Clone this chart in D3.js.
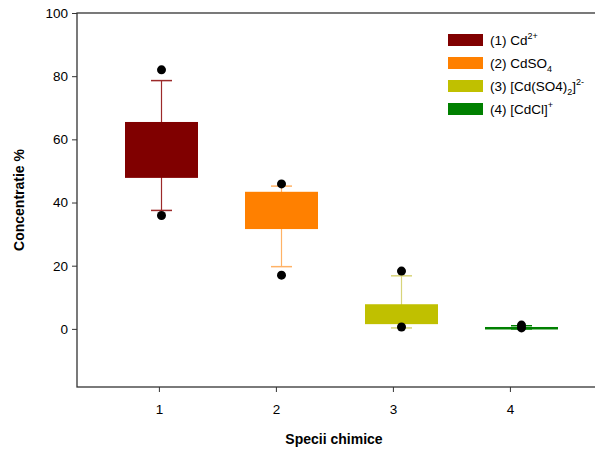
<!DOCTYPE html>
<head>
    <meta charset="UTF-8">
    <script src="https://d3js.org/d3.v7.min.js"></script>
    <style>
        body { margin: 0; background: white; }
        text { font-family: "Liberation Sans", Arial, sans-serif; fill: black; }
    </style>
</head>
<body>
    <div id="viz"></div>
    <script>
        // box plot values
        const categories = [1, 2, 3, 4];
        const q1 = [47.8, 31.6, 1.5, 0.1];
        const q3 = [65.5, 43.4, 7.8, 0.6];
        const whiskerLo = [37.5, 19.7, 0.3, 0.0];
        const whiskerHi = [78.6, 45.2, 16.8, 1.0];
        const outliers = [[82.0, 35.9], [45.9, 17.0], [18.3, 0.6], [1.2, 0.3]];
        const colors = ["#800000", "#ff8000", "#c0c000", "#008000"];
        const whiskerColors = ["#9c2a2a", "#ffb266", "#d8d47a", "#008000"];
        const legendLabels = [
            [["(1) Cd", 0], ["2+", 1]],
            [["(2) CdSO", 0], ["4", -1]],
            [["(3) [Cd(SO4)", 0], ["2", -1], ["]", 0], ["2-", 1]],
            [["(4) [CdCl]", 0], ["+", 1]]
        ];
        const yTicks = [0, 20, 40, 60, 80, 100];

        const width = 595, height = 450;
        const margin = { left: 77, top: 13, bottom: 387, right: 600 };

        const svg = d3.select('#viz').append('svg')
            .attr('width', width)
            .attr('height', height);

        const x = d3.scaleLinear().domain([0.3, 4.77]).range([margin.left, margin.right]);
        // boxes sit slightly off the tick marks in the original
        const xBox = d3.scaleLinear().domain([1, 4]).range([161.5, 521.5]);
        const y = d3.scaleLinear().domain([-18.4, 100]).range([margin.bottom, margin.top]);

        const boxW = 73, capW = 21;

        // frame
        svg.append('rect')
            .attr('x', margin.left).attr('y', margin.top)
            .attr('width', margin.right - margin.left)
            .attr('height', margin.bottom - margin.top)
            .attr('fill', 'none').attr('stroke', '#333').attr('stroke-width', 1.3);

        // axes
        const yAxis = d3.axisLeft(y).tickValues(yTicks).tickSize(5).tickPadding(4);
        svg.append('g').attr('transform', `translate(${margin.left},0)`).call(yAxis)
            .call(g => g.select('.domain').remove())
            .call(g => g.selectAll('.tick line').attr('stroke', '#333'))
            .call(g => g.selectAll('.tick text').style('font-size', '13.5px')
                .style('font-family', '"Liberation Sans", Arial, sans-serif').attr('fill', 'black'));

        const xAxis = d3.axisBottom(x).tickValues(categories).tickFormat(d3.format('d')).tickSize(5).tickPadding(12);
        svg.append('g').attr('transform', `translate(0,${margin.bottom})`).call(xAxis)
            .call(g => g.select('.domain').remove())
            .call(g => g.selectAll('.tick line').attr('stroke', '#333'))
            .call(g => g.selectAll('.tick text').style('font-size', '13.5px')
                .style('font-family', '"Liberation Sans", Arial, sans-serif').attr('fill', 'black'));

        // axis titles
        svg.append('text')
            .attr('transform', `translate(24,${(margin.top + margin.bottom) / 2}) rotate(-90)`)
            .attr('text-anchor', 'middle')
            .style('font-size', '14px').style('font-weight', 'bold')
            .text('Concentratie %');

        svg.append('text')
            .attr('x', 334).attr('y', 444)
            .attr('text-anchor', 'middle')
            .style('font-size', '14px').style('font-weight', 'bold')
            .text('Specii chimice');

        // boxes
        const boxes = svg.selectAll('.box')
            .data(categories)
            .enter()
            .append('g')
            .classed('box', true);

        boxes.append('line')
            .attr('x1', (d, i) => xBox(d)).attr('x2', (d, i) => xBox(d))
            .attr('y1', (d, i) => y(whiskerLo[i])).attr('y2', (d, i) => y(whiskerHi[i]))
            .attr('stroke', (d, i) => whiskerColors[i]).attr('stroke-width', 1.2);

        boxes.selectAll('.cap')
            .data((d, i) => [whiskerLo[i], whiskerHi[i]].map(v => ({ c: d, v: v, i: i })))
            .enter().append('line')
            .attr('x1', d => xBox(d.c) - capW / 2).attr('x2', d => xBox(d.c) + capW / 2)
            .attr('y1', d => y(d.v)).attr('y2', d => y(d.v))
            .attr('stroke', d => whiskerColors[d.i]).attr('stroke-width', 1.5);

        boxes.append('rect')
            .attr('x', d => xBox(d) - boxW / 2)
            .attr('y', (d, i) => y(q3[i]))
            .attr('width', boxW)
            .attr('height', (d, i) => Math.max(2.5, y(q1[i]) - y(q3[i])))
            .attr('fill', (d, i) => colors[i]);

        boxes.selectAll('.dot')
            .data((d, i) => outliers[i].map(v => ({ c: d, v: v })))
            .enter().append('circle')
            .attr('cx', d => xBox(d.c)).attr('cy', d => y(d.v))
            .attr('r', 4.5).attr('fill', 'black');

        // legend
        const legend = svg.selectAll('.legend')
            .data(legendLabels)
            .enter().append('g')
            .attr('transform', (d, i) => `translate(448,${34 + i * 23})`);

        legend.append('rect')
            .attr('width', 35).attr('height', 12)
            .attr('fill', (d, i) => colors[i]);

        legend.append('text')
            .attr('x', 42).attr('y', 11)
            .style('font-size', '13.5px')
            .each(function (parts) {
                const t = d3.select(this);
                let shift = 0;
                parts.forEach(([s, pos]) => {
                    const target = pos === 1 ? -6 : pos === -1 ? 4 : 0;
                    t.append('tspan')
                        .attr('dy', target - shift)
                        .style('font-size', pos === 0 ? '13.5px' : '9px')
                        .text(s);
                    shift = target;
                });
            });
    </script>
</body>
</html>
